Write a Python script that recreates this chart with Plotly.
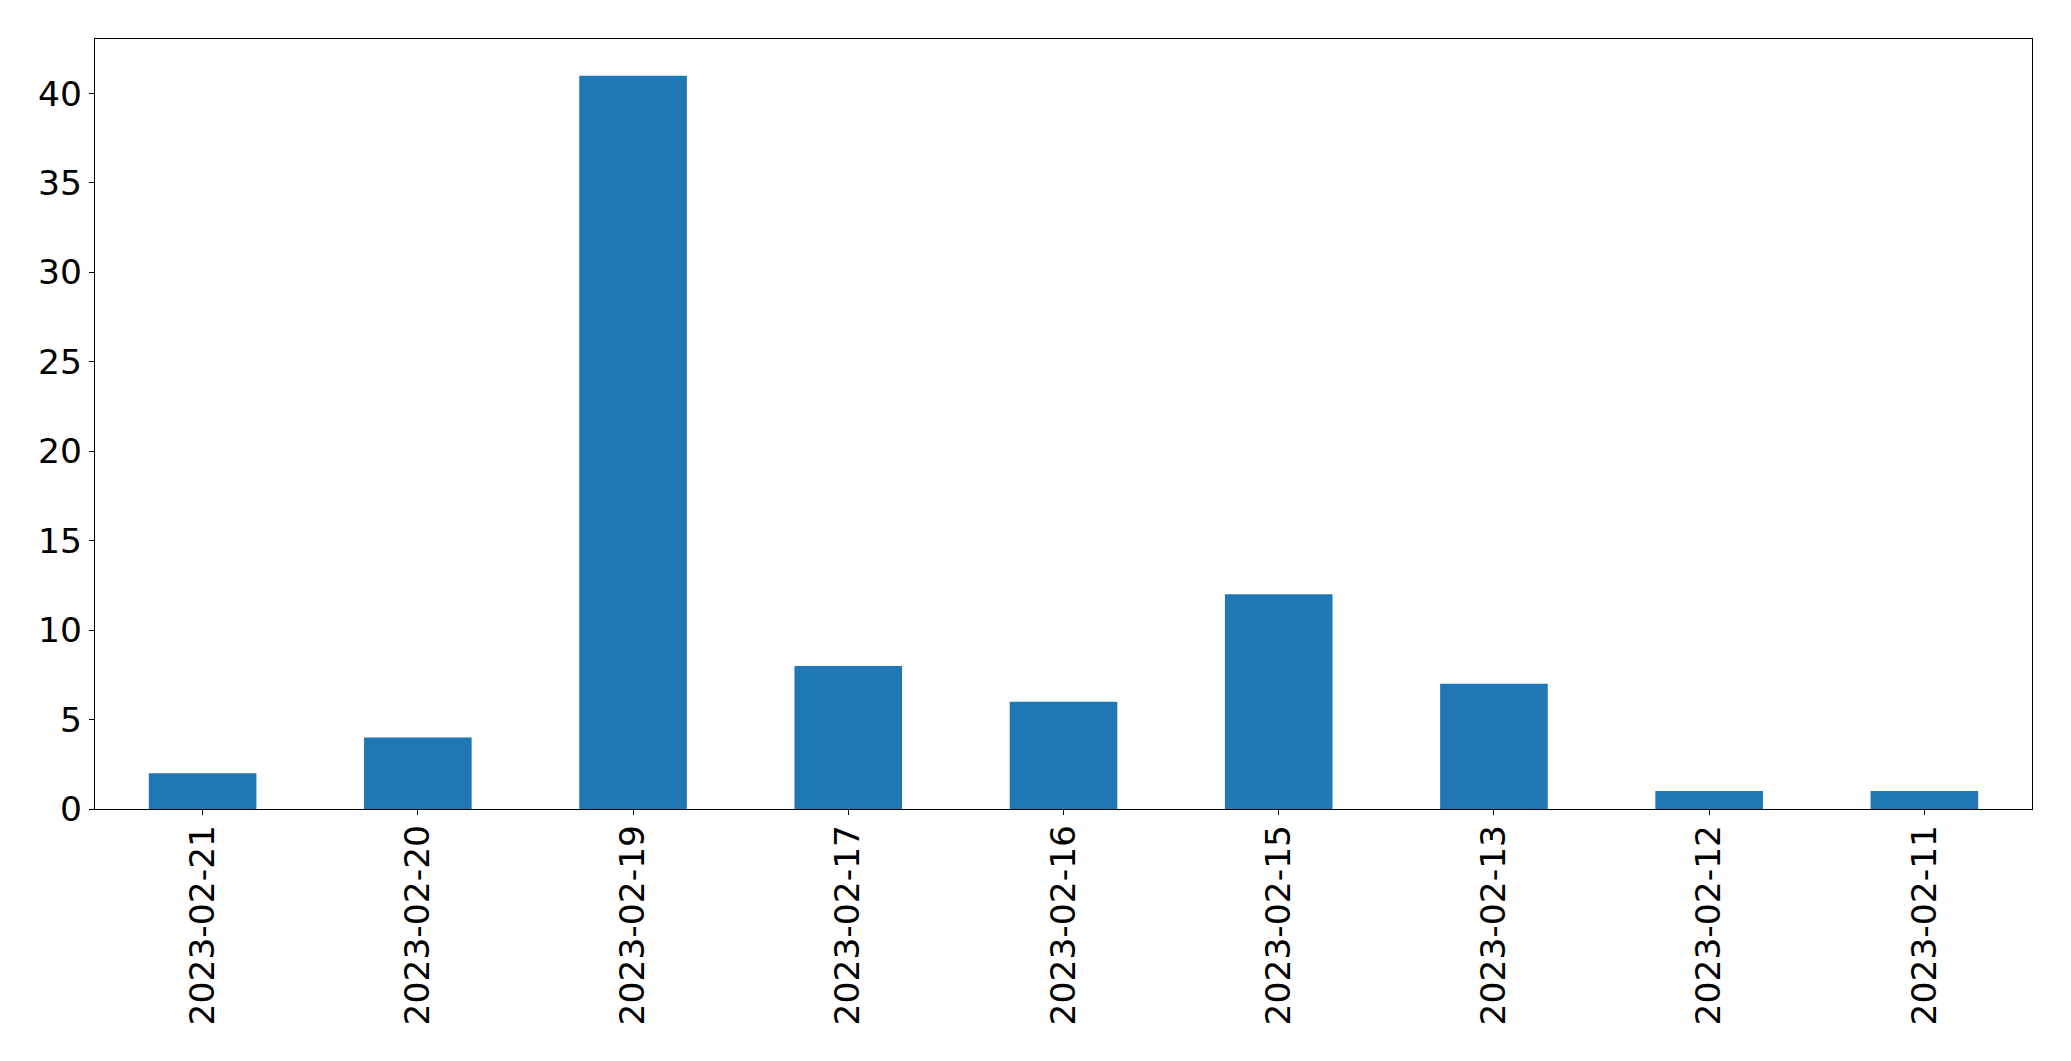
import plotly.graph_objects as go

dates = ["2023-02-21", "2023-02-20", "2023-02-19", "2023-02-17", "2023-02-16",
         "2023-02-15", "2023-02-13", "2023-02-12", "2023-02-11"]
counts = [2, 4, 41, 8, 6, 12, 7, 1, 1]
y_ticks = [0, 5, 10, 15, 20, 25, 30, 35, 40]

fig = go.Figure(go.Bar(x=dates, y=counts, marker=dict(color="#1f77b4", line=dict(width=0)),
                       width=0.5))

axis_common = dict(showline=True, linecolor="black", linewidth=1.3, mirror=True,
                   ticks="outside", ticklen=5, tickwidth=1.3, tickcolor="black",
                   showgrid=False, zeroline=False,
                   tickfont=dict(family="DejaVu Sans", size=34.5, color="black"))

fig.update_layout(
    width=2071, height=1061,
    margin=dict(l=95, r=39, t=39, b=252),
    paper_bgcolor="white", plot_bgcolor="white",
    showlegend=False,
    xaxis=dict(type="category", range=[-0.5, 8.5], tickangle=-90,
               ticklabelstandoff=-4, **axis_common),
    yaxis=dict(range=[0, 43.05], tickvals=y_ticks, ticktext=[str(v) for v in y_ticks],
               **axis_common),
)

fig.write_html("out.html", config={"displayModeBar": False},
               post_script="document.body.style.margin='0';document.body.style.overflow='hidden';")
